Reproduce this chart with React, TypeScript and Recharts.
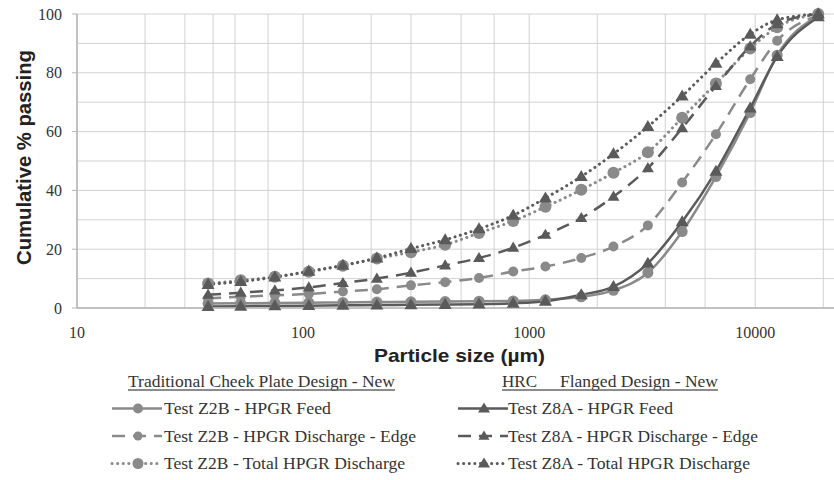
import { LineChart, Line, XAxis, YAxis, CartesianGrid, Label } from 'recharts';

// sieve sizes (µm) and cumulative % passing per test
const sizes = [38, 53, 75, 106, 150, 212, 300, 425, 600, 850, 1180, 1700, 2360, 3350, 4750, 6700, 9500, 12500, 19000];
const z2bFeed = [1.5, 1.6, 1.7, 1.8, 1.9, 2.0, 2.1, 2.2, 2.3, 2.4, 2.8, 3.8, 6.0, 12.0, 26.0, 44.7, 66.5, 86.0, 99.5];
const z2bEdge = [3.3, 3.8, 4.3, 4.8, 5.6, 6.4, 7.7, 8.8, 10.2, 12.4, 14.1, 17.0, 20.9, 28.1, 42.7, 59.1, 77.8, 90.9, 99.5];
const z2bTotal = [8.3, 9.4, 10.6, 12.3, 14.4, 16.8, 19.0, 21.5, 25.5, 29.6, 34.4, 40.2, 46.0, 53.0, 64.7, 76.4, 88.3, 95.5, 100];
const z8aFeed = [0.5, 0.6, 0.7, 0.8, 0.9, 1.0, 1.1, 1.2, 1.3, 1.6, 2.3, 4.5, 7.3, 15.2, 29.3, 46.5, 68.0, 85.5, 99.0];
const z8aEdge = [4.5, 5.2, 6.0, 7.0, 8.5, 10.0, 12.0, 14.5, 17.0, 20.5, 24.9, 30.6, 37.9, 47.6, 61.2, 75.5, 89.0, 96.5, 100];
const z8aTotal = [8.0, 9.0, 10.5, 12.5, 14.5, 17.0, 20.2, 23.2, 26.9, 31.5, 37.4, 44.7, 52.4, 61.7, 72.1, 83.2, 93.1, 98.0, 100];

const xTicks = [10, 100, 1000, 10000];
const yTicks = [0, 20, 40, 60, 80, 100];
const xGrid = [10, 20, 30, 40, 50, 60, 70, 80, 90, 100, 200, 300, 400, 500, 600, 700, 800, 900, 1000,
    2000, 3000, 4000, 5000, 6000, 7000, 8000, 9000, 10000, 20000];
const yGrid = [0, 10, 20, 30, 40, 50, 60, 70, 80, 90, 100];

const leftHeading = 'Traditional Cheek Plate Design - New';
const rightHeading = ['HRC', 'Flanged Design - New'];

const LIGHT = '#8a8a8a';
const DARK = '#5a5a5a';
const SERIF = 'Liberation Serif, Times New Roman, serif';
const SANS = 'Liberation Sans, Arial, sans-serif';

const DASH = '13 8';
const DOTS = '0.1 5.5';

const series = [
    { key: 'z2bFeed', name: 'Test Z2B - HPGR Feed', values: z2bFeed, color: LIGHT, dash: undefined, shape: 'circle', size: 5.5, width: 2.5 },
    { key: 'z2bEdge', name: 'Test Z2B - HPGR Discharge - Edge', values: z2bEdge, color: LIGHT, dash: DASH, shape: 'circle', size: 5, width: 2.5 },
    { key: 'z2bTotal', name: 'Test Z2B - Total HPGR Discharge', values: z2bTotal, color: LIGHT, dash: DOTS, shape: 'circle', size: 6, width: 3 },
    { key: 'z8aFeed', name: 'Test Z8A - HPGR Feed', values: z8aFeed, color: DARK, dash: undefined, shape: 'tri', size: 6.5, width: 2.5 },
    { key: 'z8aEdge', name: 'Test Z8A - HPGR Discharge - Edge', values: z8aEdge, color: DARK, dash: DASH, shape: 'tri', size: 6, width: 2.5 },
    { key: 'z8aTotal', name: 'Test Z8A - Total HPGR Discharge', values: z8aTotal, color: DARK, dash: DOTS, shape: 'tri', size: 6.5, width: 3 },
];

const rows = sizes.map((size, i) => {
    const row: Record<string, number> = { size };
    series.forEach((s) => { row[s.key] = s.values[i]; });
    return row;
});

function Marker({ cx, cy, shape, size, color }: { cx: number; cy: number; shape: string; size: number; color: string }) {
    if (shape === 'tri') {
        const h = size * 1.7;
        return (
            <polygon
                points={`${cx},${cy - h * 0.6} ${cx - size},${cy + h * 0.4} ${cx + size},${cy + h * 0.4}`}
                fill={color}
            />
        );
    }
    return <circle cx={cx} cy={cy} r={size} fill={color} />;
}

const dotFor = (shape: string, size: number, color: string) => (p: any) => {
    if (p.cx == null || p.cy == null) return <g key={`${p.dataKey}-${p.index}`} />;
    return (
        <g key={`${p.dataKey}-${p.index}`}>
            <Marker cx={p.cx} cy={p.cy} shape={shape} size={size} color={color} />
        </g>
    );
};

// legend placement (page coords)
const legendRowsY = [408.5, 436, 463.5];
const legendCols = [
    { symX: 112, textX: 164, widths: [167, 252, 241] },
    { symX: 458, textX: 508, widths: [165, 250, 242] },
];

function Legend() {
    return (
        <svg width={834} height={480} style={{ position: 'absolute', left: 0, top: 0, pointerEvents: 'none' }}>
            <text x={128} y={387} fontFamily={SERIF} fontSize={17} fill="#333" textLength={267} lengthAdjust="spacingAndGlyphs">
                {leftHeading}
            </text>
            <line x1={128} x2={395} y1={390} y2={390} stroke="#666" strokeWidth={1.3} />
            <text x={502} y={387} fontFamily={SERIF} fontSize={17} fill="#333" textLength={35} lengthAdjust="spacingAndGlyphs">
                {rightHeading[0]}
            </text>
            <text x={560} y={387} fontFamily={SERIF} fontSize={17} fill="#333" textLength={158} lengthAdjust="spacingAndGlyphs">
                {rightHeading[1]}
            </text>
            <line x1={502} x2={718} y1={390} y2={390} stroke="#666" strokeWidth={1.3} />
            {series.map((s, i) => {
                const col = legendCols[i < 3 ? 0 : 1];
                const row = i % 3;
                const y = legendRowsY[row];
                return (
                    <g key={s.key}>
                        <line
                            x1={col.symX}
                            x2={col.symX + 50}
                            y1={y}
                            y2={y}
                            stroke={s.color}
                            strokeWidth={s.width}
                            strokeDasharray={s.dash}
                            strokeLinecap={s.dash === DOTS ? 'round' : 'butt'}
                        />
                        <Marker cx={col.symX + 26} cy={y} shape={s.shape} size={s.size - 0.5} color={s.color} />
                        <text
                            x={col.textX}
                            y={y + 5.7}
                            fontFamily={SERIF}
                            fontSize={17}
                            fill="#333"
                            textLength={col.widths[row]}
                            lengthAdjust="spacingAndGlyphs"
                        >
                            {s.name}
                        </text>
                    </g>
                );
            })}
        </svg>
    );
}

export default function App() {
    return (
        <div style={{ position: 'absolute', left: 0, top: 0, width: 834, height: 480, background: '#fff', overflow: 'hidden' }}>
            <LineChart width={834} height={370} data={rows} margin={{ top: 14, right: 0, bottom: 0, left: 0 }}>
                <CartesianGrid stroke="#d2d2d2" strokeWidth={1} verticalValues={xGrid} horizontalValues={yGrid} />
                <XAxis
                    dataKey="size"
                    type="number"
                    scale="log"
                    domain={[10, 22300]}
                    allowDataOverflow
                    ticks={xTicks}
                    height={62}
                    tickLine={false}
                    tickSize={0}
                    tickMargin={19}
                    axisLine={{ stroke: '#b5b5b5', strokeWidth: 1.5 }}
                    tick={{ fill: '#333', fontSize: 16, fontFamily: SERIF }}
                >
                    <Label
                        content={() => (
                            <text
                                x={374}
                                y={362}
                                fontFamily={SANS}
                                fontWeight="bold"
                                fontSize={19}
                                fill="#222"
                                textLength={171}
                                lengthAdjust="spacingAndGlyphs"
                            >
                                Particle size (µm)
                            </text>
                        )}
                    />
                </XAxis>
                <YAxis
                    type="number"
                    domain={[0, 100]}
                    ticks={yTicks}
                    width={77}
                    tickSize={5}
                    tickMargin={10}
                    tickLine={{ stroke: '#b5b5b5' }}
                    axisLine={{ stroke: '#b5b5b5', strokeWidth: 1.5 }}
                    tick={{ fill: '#333', fontSize: 16, fontFamily: SERIF }}
                >
                    <Label
                        content={() => (
                            <text
                                x={31}
                                y={265}
                                transform="rotate(-90, 31, 265)"
                                fontFamily={SANS}
                                fontWeight="bold"
                                fontSize={20}
                                fill="#222"
                                textLength={215}
                                lengthAdjust="spacingAndGlyphs"
                            >
                                Cumulative % passing
                            </text>
                        )}
                    />
                </YAxis>
                {series.map((s) => (
                    <Line
                        key={s.key}
                        dataKey={s.key}
                        name={s.name}
                        type="monotone"
                        stroke={s.color}
                        strokeWidth={s.width}
                        strokeDasharray={s.dash}
                        strokeLinecap={s.dash === DOTS ? 'round' : 'butt'}
                        dot={dotFor(s.shape, s.size, s.color)}
                        activeDot={false}
                        isAnimationActive={false}
                    />
                ))}
            </LineChart>
            <Legend />
        </div>
    );
}
